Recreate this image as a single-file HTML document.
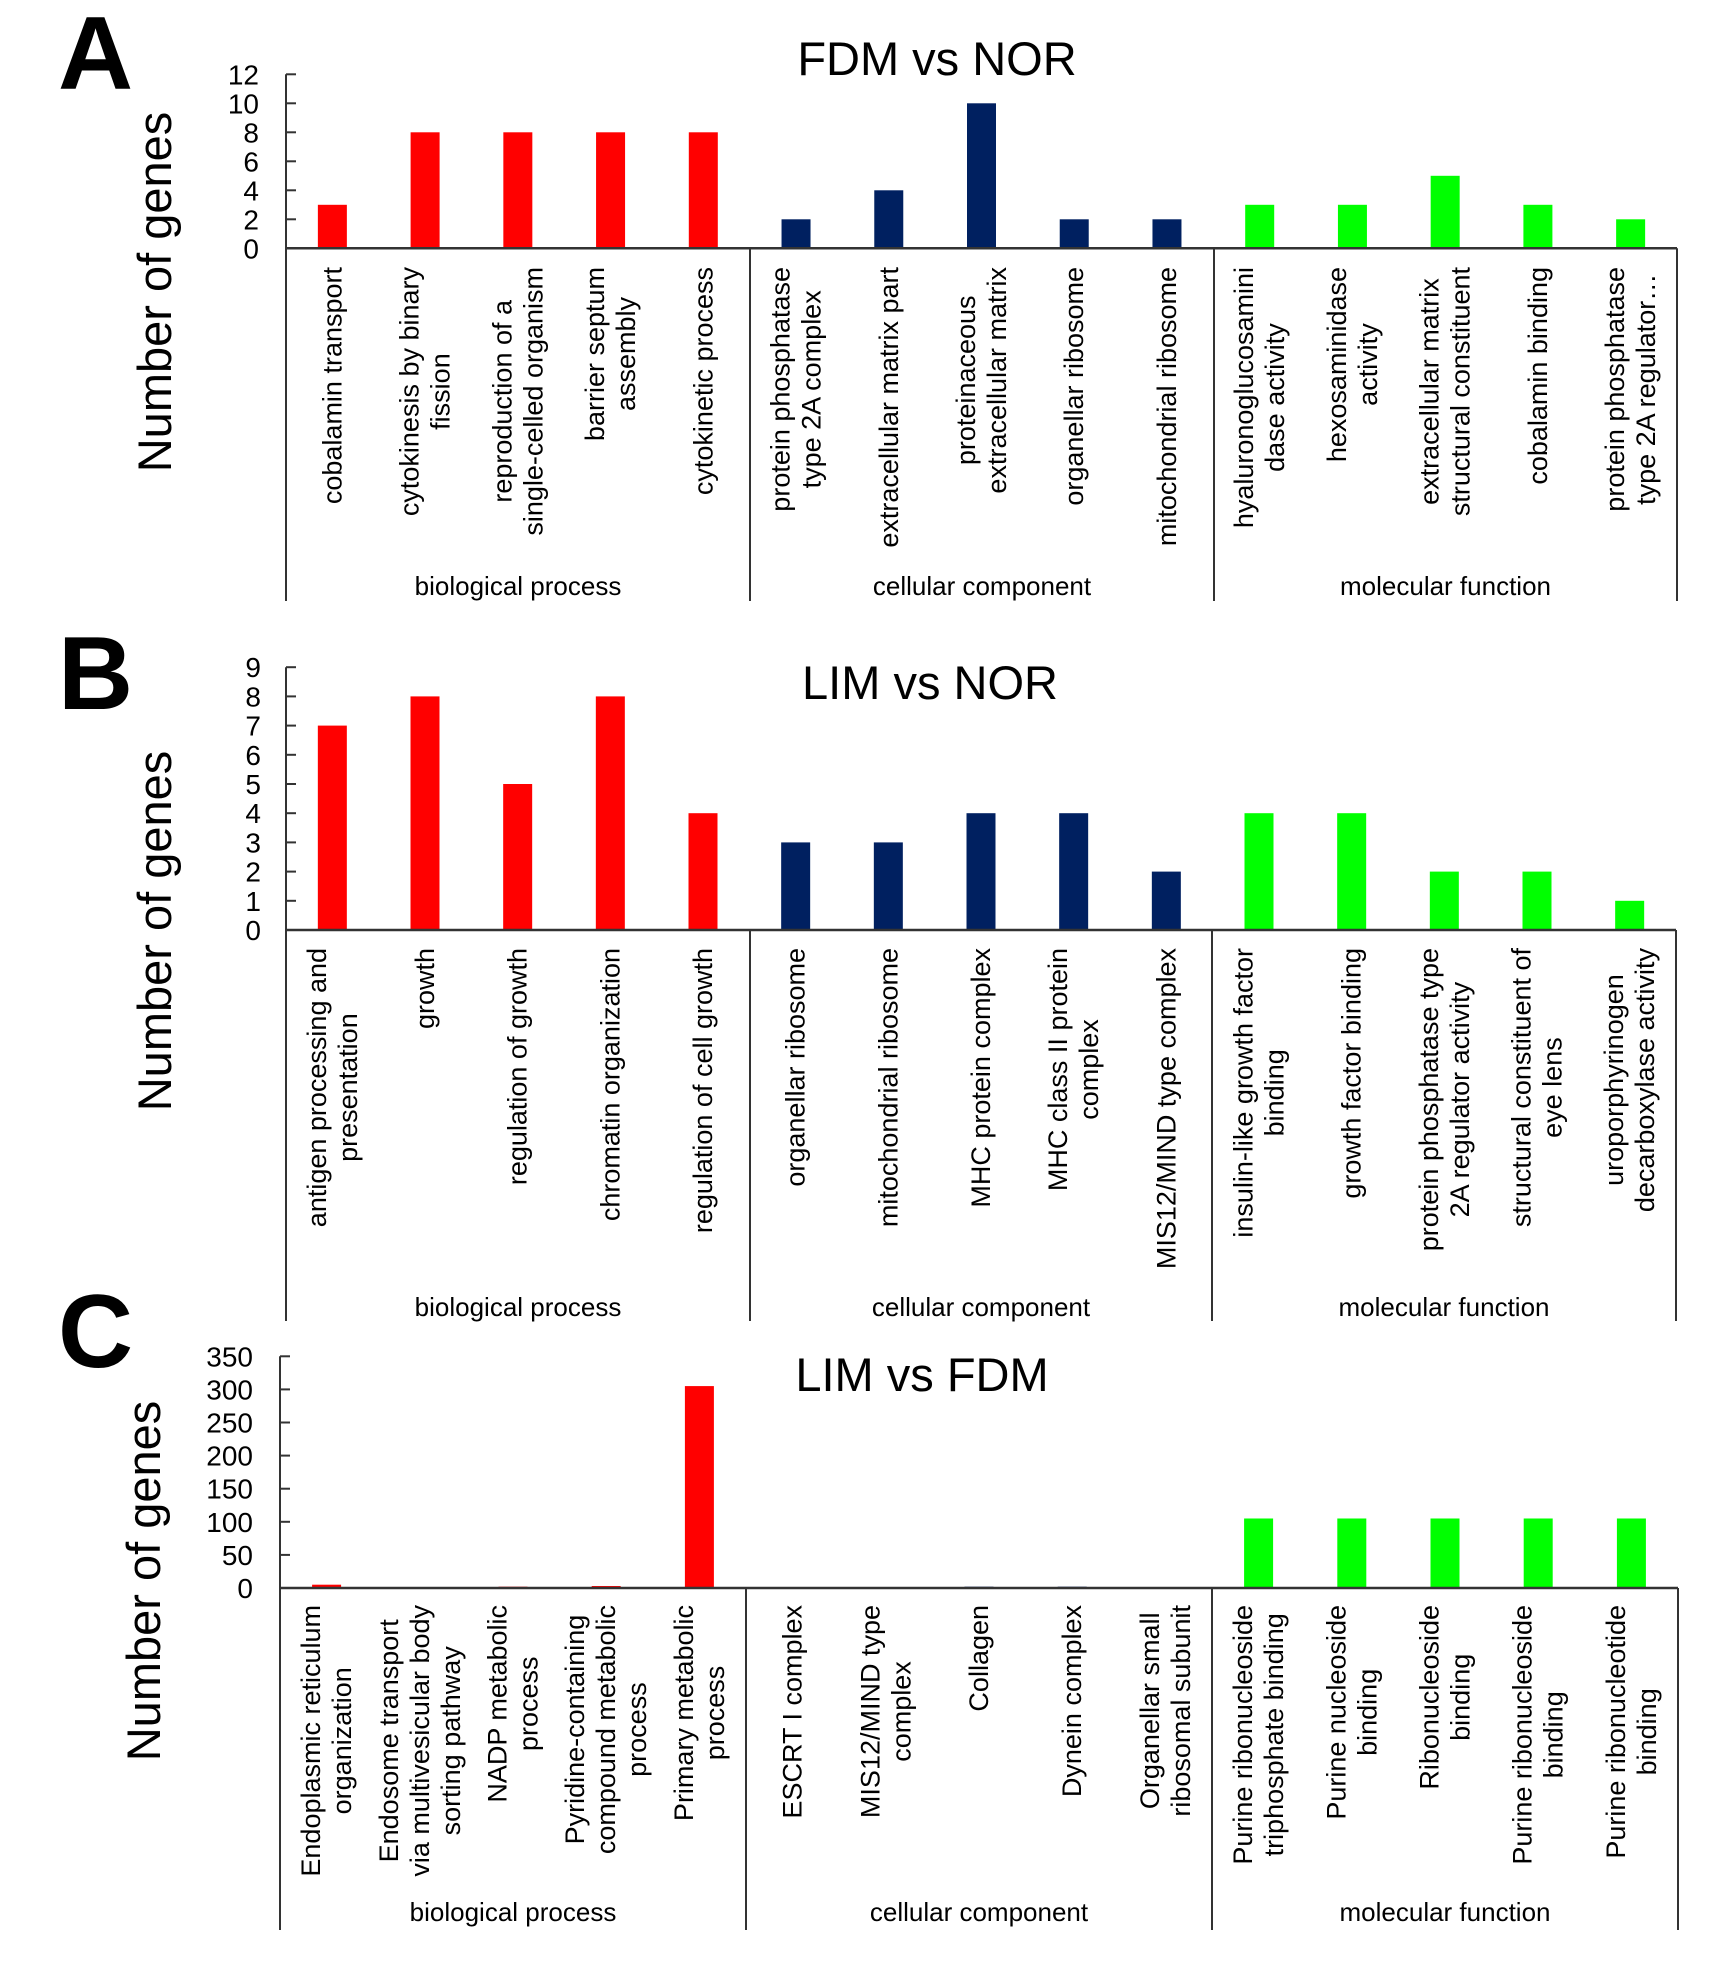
<!DOCTYPE html>
<html><head><meta charset="utf-8">
<style>
html,body{margin:0;padding:0;background:#fff;}
svg{display:block;font-family:"Liberation Sans",Arial,sans-serif;}
</style></head>
<body>
<svg id="s" width="1720" height="1979" viewBox="0 0 1720 1979" xmlns="http://www.w3.org/2000/svg"></svg>
<script>
const S=document.getElementById('s');const NS='http://www.w3.org/2000/svg';
function el(t,a,txt){const e=document.createElementNS(NS,t);for(const k in a)e.setAttribute(k,a[k]);if(txt!==undefined)e.textContent=txt;S.appendChild(e);return e;}
const RED='#ff0000',NAVY='#002060',GREEN='#00ff00',AX='#333';
const panels=[
 {letter:'A',ly:89,title:'FDM vs NOR',tx:937,ty:75,x0:286,x1:1677,d1:750,d2:1214,zero:248.3,unit:14.5,ticks:[0,2,4,6,8,10,12],tickLblX:259,
  top:267,bot:601,grpY:595,ylab:[155,292],
  vals:[3,8,8,8,8,2,4,10,2,2,3,3,5,3,2],
  labels:[['cobalamin transport'],['cytokinesis by binary','fission'],['reproduction of a','single-celled organism'],['barrier septum','assembly'],['cytokinetic process'],
  ['protein phosphatase','type 2A complex'],['extracellular matrix part'],['proteinaceous','extracellular matrix'],['organellar ribosome'],['mitochondrial ribosome'],
  ['hyaluronoglucosamini','dase activity'],['hexosaminidase','activity'],['extracellular matrix','structural constituent'],['cobalamin binding'],['protein phosphatase','type 2A regulator…']]},
 {letter:'B',ly:709,title:'LIM vs NOR',tx:930,ty:699,x0:286,x1:1676,d1:750,d2:1212,zero:930,unit:29.2,ticks:[0,1,2,3,4,5,6,7,8,9],tickLblX:261,
  top:948,bot:1321,grpY:1316,ylab:[155,931],
  vals:[7,8,5,8,4,3,3,4,4,2,4,4,2,2,1],
  labels:[['antigen processing and','presentation'],['growth'],['regulation of growth'],['chromatin organization'],['regulation of cell growth'],
  ['organellar ribosome'],['mitochondrial ribosome'],['MHC protein complex'],['MHC class II protein','complex'],['MIS12/MIND type complex'],
  ['insulin-like growth factor','binding'],['growth factor binding'],['protein phosphatase type','2A regulator activity'],['structural constituent of','eye lens'],['uroporphyrinogen','decarboxylase activity']]},
 {letter:'C',ly:1367,title:'LIM vs FDM',tx:922,ty:1391,x0:280,x1:1678,d1:746,d2:1212,zero:1588,unit:33.1/50,ticks:[0,50,100,150,200,250,300,350],tickLblX:253,
  top:1605,bot:1930,grpY:1921,ylab:[144,1581],
  vals:[5,1,2,3,305,1,1,2,2,1,105,105,105,105,105],
  labels:[['Endoplasmic reticulum','organization'],['Endosome transport','via multivesicular body','sorting pathway'],['NADP metabolic','process'],['Pyridine-containing','compound metabolic','process'],['Primary metabolic','process'],
  ['ESCRT I complex'],['MIS12/MIND type','complex'],['Collagen'],['Dynein complex'],['Organellar small','ribosomal subunit'],
  ['Purine ribonucleoside','triphosphate binding'],['Purine nucleoside','binding'],['Ribonucleoside','binding'],['Purine ribonucleoside','binding'],['Purine ribonucleotide','binding']]}
];
panels.forEach(p=>{
 el('text',{x:58,y:p.ly,'font-size':104,'font-weight':'bold'},p.letter);
 el('text',{x:p.tx,y:p.ty,'font-size':47,'text-anchor':'middle'},p.title);
 el('text',{x:0,y:0,'font-size':47,'text-anchor':'middle',transform:`translate(${p.ylab[0]+16},${p.ylab[1]}) rotate(-90)`},'Number of genes');
 const cw=(p.x1-p.x0)/15;
 p.vals.forEach((v,i)=>{const c=p.x0+cw*(i+0.5);const h=v*p.unit;
  el('rect',{x:c-14.5,y:p.zero-h,width:29,height:h,fill:i<5?RED:(i<10?NAVY:GREEN)});
  const L=p.labels[i],n=L.length;
  const g=[];let mx=0;
  L.forEach((t,j)=>{const bx=c+(j-(n-1)/2)*31+9;const e=el('text',{'font-size':27,'text-anchor':'middle'},t);e._bx=bx;g.push(e);mx=Math.max(mx,e.getComputedTextLength());});
  const cy=p.top+mx/2;
  g.forEach(e=>e.setAttribute('transform',`translate(${e._bx},${cy}) rotate(-90)`));
 });
 // axes
 el('line',{x1:p.x0,y1:p.ticks.length?p.zero-p.ticks[p.ticks.length-1]*p.unit:0,x2:p.x0,y2:p.bot,stroke:AX,'stroke-width':2});
 el('line',{x1:p.x0,y1:p.zero,x2:p.x1,y2:p.zero,stroke:AX,'stroke-width':2.5});
 [p.d1,p.d2,p.x1].forEach(x=>el('line',{x1:x,y1:p.zero,x2:x,y2:p.bot,stroke:AX,'stroke-width':2}));
 p.ticks.forEach(t=>{const y=p.zero-t*p.unit;
  el('line',{x1:p.x0,y1:y,x2:p.x0+10,y2:y,stroke:AX,'stroke-width':2});
  el('text',{x:p.tickLblX,y:y+10,'font-size':28,'text-anchor':'end'},String(t));});
 el('text',{x:(p.x0+p.d1)/2,y:p.grpY,'font-size':26,'text-anchor':'middle'},'biological process');
 el('text',{x:(p.d1+p.d2)/2,y:p.grpY,'font-size':26,'text-anchor':'middle'},'cellular component');
 el('text',{x:(p.d2+p.x1)/2,y:p.grpY,'font-size':26,'text-anchor':'middle'},'molecular function');
});
</script>
</body></html>
